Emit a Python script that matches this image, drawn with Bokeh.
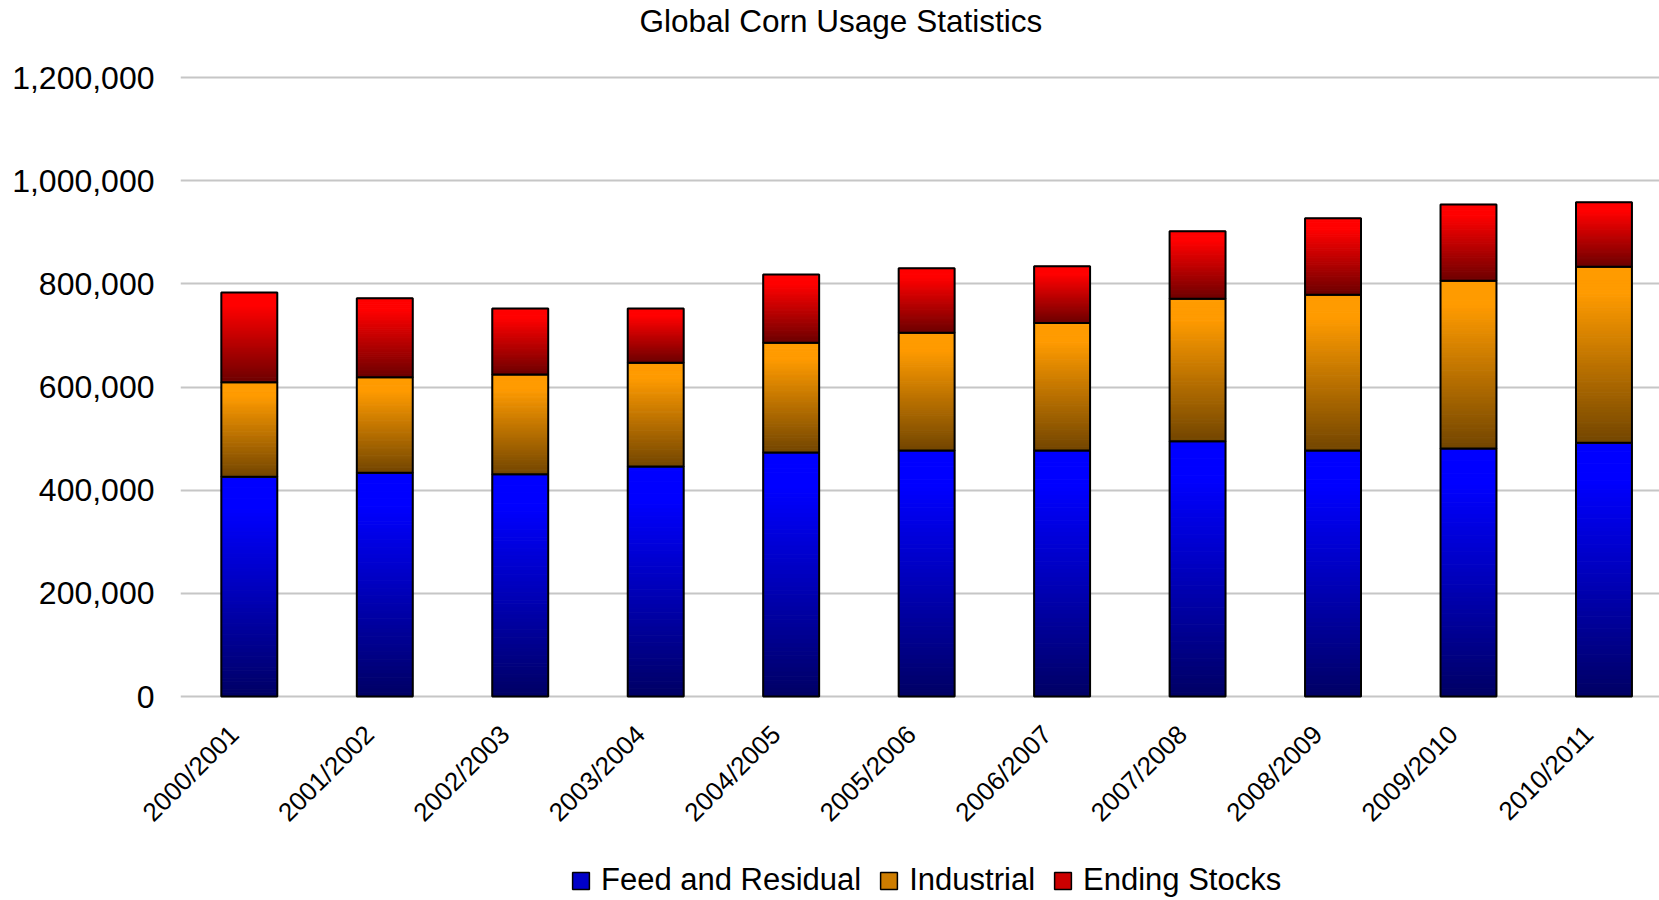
import numpy as np
from bokeh.plotting import figure
from bokeh.layouts import column
from bokeh.models import (ColumnDataSource, Range1d, FixedTicker,
                          NumeralTickFormatter, Legend, LegendItem)
from bokeh.embed import file_html
from bokeh.resources import INLINE
import math

# ---------------- data ----------------
seasons = ["2000/2001", "2001/2002", "2002/2003", "2003/2004", "2004/2005",
           "2005/2006", "2006/2007", "2007/2008", "2008/2009", "2009/2010",
           "2010/2011"]
feed = [426000, 434000, 431000, 446000, 473000, 477000, 477000, 495000,
        477000, 481000, 492000]
industrial = [183000, 185000, 193000, 201000, 213000, 228000, 247000,
              276000, 302000, 325000, 341000]
ending = [174000, 153000, 128000, 105000, 132000, 125000, 110000, 131000,
          148000, 148000, 125000]
series_names = ["Feed and Residual", "Industrial", "Ending Stocks"]
y_ticks = [0, 200000, 400000, 600000, 800000, 1000000, 1200000]

# ---------------- styles / layout ----------------
FONT = "Liberation Sans"
top_colors = [(0, 0, 255), (255, 155, 0), (255, 0, 0)]
bottom_colors = [(0, 0, 100), (115, 70, 0), (110, 0, 0)]
N_SLICES = 60
BAR_W = 0.413
Y_MAX = 1200000
FRAME_TOP, Y_TOP_PX, Y_ZERO_PX, FRAME_BOTTOM = 40, 77, 696, 698
MAIN_H, LEGEND_H, W = 860, 40, 1659
px_per_unit = (Y_ZERO_PX - Y_TOP_PX) / Y_MAX
y_start = -(FRAME_BOTTOM - Y_ZERO_PX) / px_per_unit
y_end = Y_MAX + (Y_TOP_PX - FRAME_TOP) / px_per_unit
PAD = "\u00a0\u00a0\u00a0"


def shade(c0, c1, t):
    f = 0.0 if t < 0.15 else (t - 0.15) / 0.85
    return "#%02x%02x%02x" % tuple(int(round(a + (b - a) * f)) for a, b in zip(c0, c1))


p = figure(width=W, height=MAIN_H, output_backend="svg", toolbar_location=None,
           x_range=Range1d(-0.508, 10.41), y_range=Range1d(y_start, y_end),
           min_border_left=180, min_border_right=0, min_border_top=FRAME_TOP,
           min_border_bottom=MAIN_H - FRAME_BOTTOM)
p.outline_line_color = None
p.background_fill_color = "white"
p.border_fill_color = "white"

p.title.text = "Global Corn Usage Statistics"
p.title.align = "left"
p.title.offset = 459
p.title.text_font = FONT
p.title.text_font_size = "31.5px"
p.title.text_font_style = "normal"
p.title.text_color = "black"
p.title.vertical_align = "top"
p.title.standoff = 0

x_idx = list(range(len(seasons)))

# x axis
p.xaxis.ticker = FixedTicker(ticks=x_idx)
p.xaxis.major_label_overrides = {i: s + PAD for i, s in zip(x_idx, seasons)}
p.xaxis.major_label_orientation = math.pi / 4
p.xaxis.major_label_text_font = FONT
p.xaxis.major_label_text_font_size = "26px"
p.xaxis.major_label_text_color = "black"
p.xaxis.major_label_standoff = 16
p.xaxis.major_tick_out = 0
p.xaxis.major_tick_in = 0
p.xaxis.axis_line_color = None
p.xaxis.major_tick_line_color = None
p.xaxis.minor_tick_line_color = None

# y axis
p.yaxis.ticker = FixedTicker(ticks=y_ticks)
p.yaxis.formatter = NumeralTickFormatter(format="0,0")
p.yaxis.major_label_text_font = FONT
p.yaxis.major_label_text_font_size = "32px"
p.yaxis.major_label_text_color = "black"
p.yaxis.major_label_standoff = 26
p.yaxis.major_tick_out = 0
p.yaxis.major_tick_in = 0
p.yaxis.axis_line_color = None
p.yaxis.major_tick_line_color = None
p.yaxis.minor_tick_line_color = None

p.xgrid.grid_line_color = None
p.ygrid.grid_line_color = "#c6c6c6"
p.ygrid.grid_line_width = 2

stacks = [feed, industrial, ending]
bottoms = [np.zeros(len(seasons))]
for s in stacks[:-1]:
    bottoms.append(bottoms[-1] + np.array(s))

# legend strip (separate small canvas below the chart)
lf = figure(width=W, height=LEGEND_H, output_backend="svg", toolbar_location=None,
            x_axis_location=None, y_axis_location=None,
            x_range=Range1d(-0.508, 10.41), y_range=Range1d(0, Y_MAX),
            min_border_left=0, min_border_right=0, min_border_top=0,
            min_border_bottom=0)
lf.outline_line_color = None
lf.grid.visible = False

legend_items = []
for k, vals in enumerate(stacks):
    xs, bs, ts, cs = [], [], [], []
    for i in x_idx:
        b0 = bottoms[k][i]
        t0 = b0 + vals[i]
        h = t0 - b0
        for j in range(N_SLICES):
            xs.append(i)
            ts.append(t0 - h * j / N_SLICES)
            bs.append(t0 - h * (j + 1) / N_SLICES)
            cs.append(shade(top_colors[k], bottom_colors[k], (j + 0.5) / N_SLICES))
    src = ColumnDataSource(dict(x=xs, top=ts, bottom=bs, color=cs))
    p.vbar(x="x", top="top", bottom="bottom", width=BAR_W, source=src,
           fill_color="color", line_color="color", line_width=1.0)
    osrc = ColumnDataSource(dict(x=x_idx, top=list(bottoms[k] + np.array(vals)),
                                 bottom=list(bottoms[k])))
    p.vbar(x="x", top="top", bottom="bottom", width=BAR_W, source=osrc,
           fill_color=None, line_color="black", line_width=2)
    # legend proxy (hidden) in the legend strip
    r_leg = lf.vbar(x="x", top="top", bottom="bottom", width=BAR_W, source=osrc,
                    fill_color=shade(top_colors[k], bottom_colors[k], 0.45),
                    line_color="black", line_width=1.5, visible=False)
    legend_items.append(LegendItem(label=series_names[k], renderers=[r_leg]))

legend = Legend(items=legend_items, orientation="horizontal",
                location=(390, 2),
                glyph_width=21, glyph_height=21, label_standoff=10, spacing=17,
                label_text_font=FONT, label_text_font_size="31px",
                label_text_color="black", border_line_color=None,
                background_fill_alpha=0, padding=0, margin=0,
                inactive_fill_alpha=0, click_policy="none")
lf.add_layout(legend)

layout = column(p, lf, spacing=0)
open("out.html", "w").write(file_html(layout, INLINE))
